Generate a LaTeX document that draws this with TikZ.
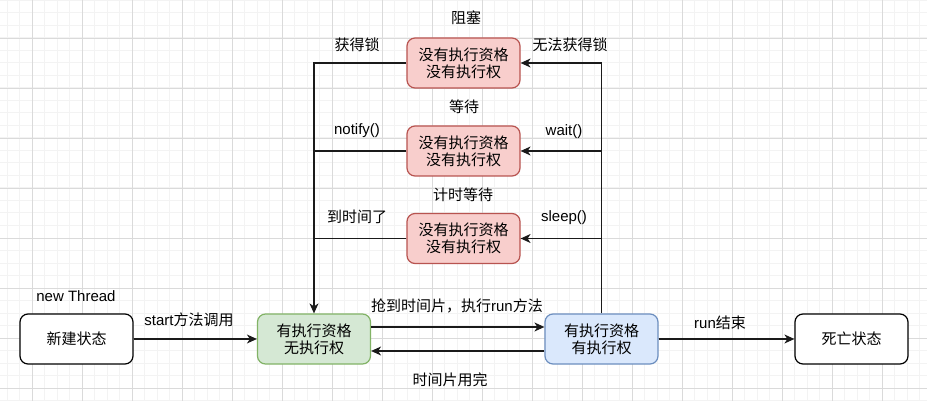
\documentclass[tikz,border=0pt]{standalone}
\usepackage{fontspec}
\setmainfont{Liberation Sans}
\newfontfamily\cjk{Noto Sans CJK SC}
\usetikzlibrary{arrows.meta}
\definecolor{minorgrid}{HTML}{F3F3F3}
\definecolor{majorgrid}{HTML}{DADADA}
\definecolor{redfill}{HTML}{F8CECC}
\definecolor{redline}{HTML}{B85450}
\definecolor{greenfill}{HTML}{D5E8D4}
\definecolor{greenline}{HTML}{82B366}
\definecolor{bluefill}{HTML}{DAE8FC}
\definecolor{blueline}{HTML}{6C8EBF}
\definecolor{edgecol}{HTML}{1A1A1A}
\tikzset{
  txt/.style={font=\fontsize{15pt}{17pt}\selectfont},
  state/.style={txt, draw, rounded corners=8pt, minimum width=113pt, minimum height=50pt,
    align=center, line width=1.2pt, inner sep=0pt},
  plain/.style={state, fill=white, draw=black},
  redst/.style={state, fill=redfill, draw=redline},
  greenst/.style={state, fill=greenfill, draw=greenline},
  bluest/.style={state, fill=bluefill, draw=blueline},
  lbl/.style={txt, inner sep=0pt, text=black},
  conn/.style={line width=1.3pt, draw=edgecol},
  arr/.style={conn, -{Stealth[length=10pt,width=9pt,inset=3pt]}},
}
\begin{document}
\begin{tikzpicture}[x=1pt,y=-1pt]
\useasboundingbox (0,0) rectangle (927,401);
\fill[white] (0,0) rectangle (927,401);
% grid
\foreach \i in {0,...,74} {
  \draw[minorgrid, line width=1pt] ({7+12.5*\i},0) -- ({7+12.5*\i},401);
}
\foreach \j in {0,...,32} {
  \draw[minorgrid, line width=1pt] (0,{0.5+12.5*\j}) -- (927,{0.5+12.5*\j});
}
\foreach \i in {0,...,18} {
  \draw[majorgrid, line width=0.9pt] ({32+50*\i},0) -- ({32+50*\i},401);
}
\foreach \j in {0,...,8} {
  \draw[majorgrid, line width=0.9pt] (0,{38+50*\j}) -- (927,{38+50*\j});
}
% nodes
\node[plain] (new) at (76.5,339) {\cjk 新建状态};
\node[greenst] (ready) at (314,339) {\cjk 有执行资格\\\cjk 无执行权};
\node[bluest] (run) at (601.5,339) {\cjk 有执行资格\\\cjk 有执行权};
\node[plain] (dead) at (851.5,339) {\cjk 死亡状态};
\node[redst] (block) at (463.5,63) {\cjk 没有执行资格\\\cjk 没有执行权};
\node[redst] (wait) at (463.5,151) {\cjk 没有执行资格\\\cjk 没有执行权};
\node[redst] (twait) at (463.5,238.5) {\cjk 没有执行资格\\\cjk 没有执行权};
% labels
\node[lbl] (lblock) at (466,18) {\cjk 阻塞};
\node[lbl] (lwait) at (464,107) {\cjk 等待};
\node[lbl] (ltwait) at (463,195) {\cjk 计时等待};
\node[lbl] (lget) at (357,45) {\cjk 获得锁};
\node[lbl] (lnoget) at (570,45) {\cjk 无法获得锁};
\node[lbl] (lnotify) at (357,131) {notify()};
\node[lbl] (lwaitm) at (564,132) {wait()};
\node[lbl] (ltime) at (357,217) {\cjk 到时间了};
\node[lbl] (lsleep) at (564,218) {sleep()};
\node[lbl] (lnew) at (76,296) {new Thread};
\node[lbl] (lstart) at (189,320) {start{\cjk 方法调用}};
\node[lbl] (lgrab) at (457,306) {{\cjk 抢到时间片，执行}run{\cjk 方法}};
\node[lbl] (lused) at (450,380) {\cjk 时间片用完};
\node[lbl] (lend) at (720,323) {run{\cjk 结束}};
% connectors
\draw[arr] (new) -- (ready);
\draw[arr] (run) -- (dead);
\draw[arr] ([yshift=12pt]ready.east) -- ([yshift=12pt]run.west);
\draw[arr] ([yshift=-12pt]run.west) -- ([yshift=-12pt]ready.east);
\draw[arr] (block.west) -| (ready.north);
\draw[conn] (wait.west) -- (wait.west -| ready.north);
\draw[conn] (twait.west) -- (twait.west -| ready.north);
\draw[arr] (run.north) |- (block.east);
\draw[arr] (wait.east -| run.north) -- (wait.east);
\draw[arr] (twait.east -| run.north) -- (twait.east);
\end{tikzpicture}
\end{document}
